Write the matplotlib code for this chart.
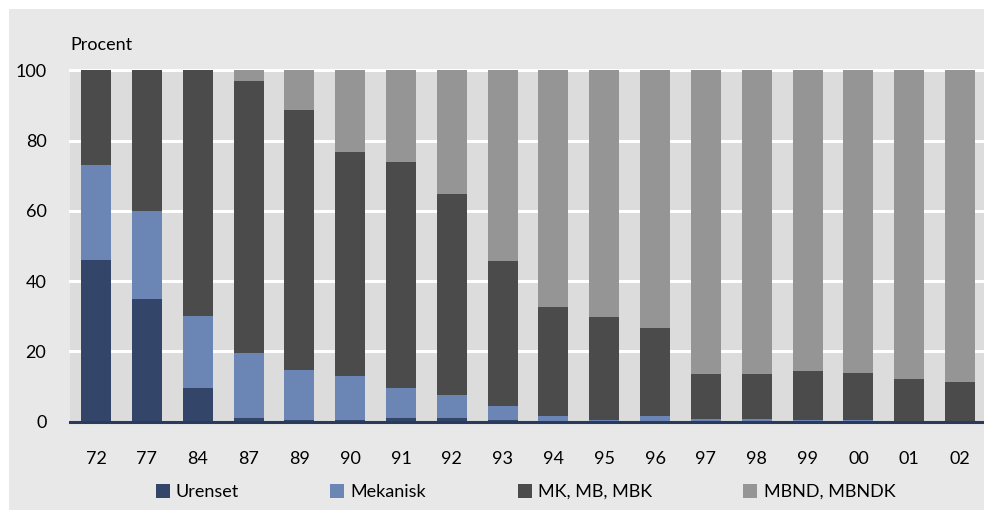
import matplotlib
matplotlib.use("Agg")
import matplotlib.pyplot as plt
from matplotlib.patches import Patch
import numpy as np

plt.rcParams['font.family'] = ['Lato', 'DejaVu Sans']

years = ['72', '77', '84', '87', '89', '90', '91', '92', '93',
         '94', '95', '96', '97', '98', '99', '00', '01', '02']
urenset = [46, 35, 9.5, 1, 0.5, 0.5, 1, 1, 0.5,
           0, 0, 0, 0, 0, 0, 0, 0, 0]
mekanisk = [27, 25, 20.5, 18.5, 14.2, 12.5, 8.5, 6.5, 3.9,
            1.5, 0.4, 1.5, 0.6, 0.6, 0.3, 0.3, 0.2, 0.2]
mk_mb_mbk = [27, 40, 70, 77.5, 74, 63.7, 64.4, 57.3, 41.3,
             31.1, 29.4, 25.1, 12.9, 12.9, 14.1, 13.5, 11.9, 11.1]
mbnd_mbndk = [0, 0, 0, 3, 11.3, 23.3, 26.1, 35.2, 54.3,
              67.4, 70.2, 73.4, 86.5, 86.5, 85.6, 86.2, 87.9, 88.7]

series = [
    ('Urenset', urenset, '#33466a'),
    ('Mekanisk', mekanisk, '#6b86b5'),
    ('MK, MB, MBK', mk_mb_mbk, '#4b4b4b'),
    ('MBND, MBNDK', mbnd_mbndk, '#959595'),
]

W, H = 984, 511
fig = plt.figure(figsize=(W / 100, H / 100), dpi=100)
fig.patch.set_facecolor('white')

# light grey panel behind everything
bg = fig.add_axes([9 / W, 1 / H, (W - 9) / W, (510 - 9) / H], zorder=-5)
bg.set_facecolor('#e8e8e8')
bg.set_xticks([])
bg.set_yticks([])
for s in bg.spines.values():
    s.set_visible(False)

ax = fig.add_axes([70 / W, (H - 421.5) / H, (984 - 70) / W, (421.5 - 70.3) / H],
                  zorder=1)
ax.set_facecolor('#dcdcdc')

x = np.arange(len(years))
bottom = np.zeros(len(years))
for name, vals, col in series:
    ax.bar(x, vals, width=0.59, bottom=bottom, color=col, label=name, zorder=3)
    bottom += np.array(vals)

ax.set_xlim(-0.512, 17.47)
ax.set_ylim(0, 100)
ax.set_yticks([0, 20, 40, 60, 80, 100])
ax.set_xticks(x)
ax.set_xticklabels(years)
for yv in [20, 40, 60, 80, 100]:
    ax.axhline(yv, color='white', lw=2.2, zorder=1, clip_on=False)
ax.axhline(0, color='#2a3a5c', lw=2.2, zorder=4, clip_on=False)

for s in ax.spines.values():
    s.set_visible(False)
ax.tick_params(axis='both', length=0, labelsize=13, colors='black')
ax.tick_params(axis='y', pad=17)
ax.tick_params(axis='x', pad=21.5)

fig.text(70 / W, (H - 45) / H, 'Procent', fontsize=13, ha='left', va='center')

handles = [Patch(facecolor=c, edgecolor='none') for _, _, c in series]
labels = [n for n, _, _ in series]
leg = fig.legend(handles, labels, loc='center', ncol=4,
                 bbox_to_anchor=(0.534, (H - 492) / H), frameon=False,
                 fontsize=13, handlelength=0.78, handleheight=0.78,
                 handletextpad=0.35, columnspacing=5.05, borderaxespad=0)

fig.savefig('out.png', dpi=100)
